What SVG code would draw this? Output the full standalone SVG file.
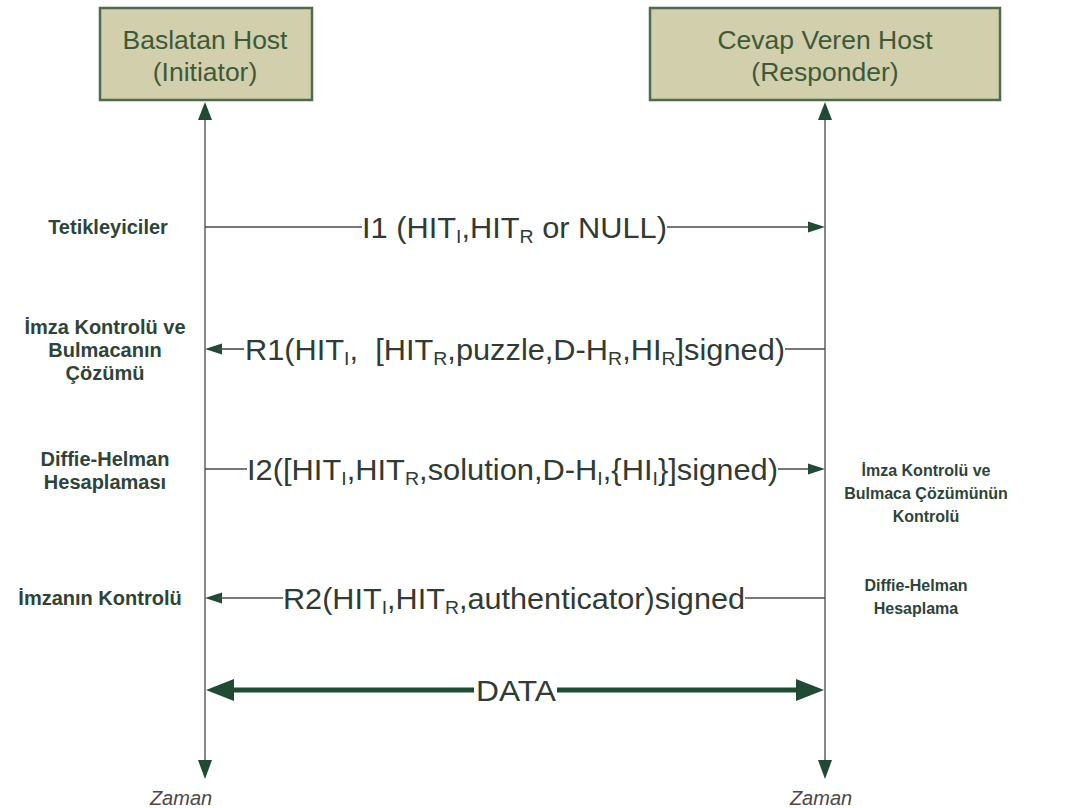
<svg xmlns="http://www.w3.org/2000/svg" width="1072" height="808" viewBox="0 0 1072 808">
  <style>
    .host rect { fill: #d2cfad; stroke: #4f6a4d; stroke-width: 2.5; }
    .host text { font-family: "Liberation Sans", Arial, sans-serif; font-size: 26.5px; fill: #3d5a38; text-anchor: middle; }
    .life { stroke: #6a6a6a; stroke-width: 1.6; fill: none; }
    .msg { stroke: #4a4a4a; stroke-width: 1.6; fill: none; }
    .head { fill: #1f4a33; }
    .mtext { font-family: "Liberation Sans", Arial, sans-serif; font-size: 30px; fill: #2f3b33; }
    .sub { font-size: 19px; }
    .side { font-family: "Liberation Sans", Arial, sans-serif; font-size: 20px; font-weight: bold; fill: #2e4438; text-anchor: middle; }
    .sideR { font-family: "Liberation Sans", Arial, sans-serif; font-size: 16px; font-weight: bold; fill: #2e4438; text-anchor: middle; }
    .time { font-family: "Liberation Sans", Arial, sans-serif; font-size: 20px; font-style: italic; fill: #4a4a4a; text-anchor: middle; }
    .data { stroke: #1f4a33; stroke-width: 5; fill: none; }
  </style>

  <!-- Hosts -->
  <g id="initiator" class="host">
    <rect x="100" y="8" width="212" height="92"/>
    <text x="205" y="49">Baslatan Host</text>
    <text x="205" y="81">(Initiator)</text>
  </g>
  <g id="responder" class="host">
    <rect x="650" y="8" width="350" height="92"/>
    <text x="825" y="49">Cevap Veren Host</text>
    <text x="825" y="81">(Responder)</text>
  </g>

  <!-- Lifelines -->
  <g id="lifelines">
    <line class="life" x1="205" y1="118" x2="205" y2="762"/>
    <polygon class="head" points="205,102 198,120 212,120"/>
    <polygon class="head" points="205,779 198,760 212,760"/>
    <line class="life" x1="825" y1="118" x2="825" y2="762"/>
    <polygon class="head" points="825,102 818,120 832,120"/>
    <polygon class="head" points="825,779 818,760 832,760"/>
  </g>

  <!-- Messages -->
  <g id="connectors">
    <!-- I1 -->
    <line class="msg" x1="205" y1="227" x2="362" y2="227"/>
    <line class="msg" x1="667" y1="227" x2="812" y2="227"/>
    <polygon class="head" points="825,227 808,221.5 808,232.5"/>
    <!-- R1 -->
    <polygon class="head" points="205,349 222,343.5 222,354.5"/>
    <line class="msg" x1="218" y1="349" x2="244" y2="349"/>
    <line class="msg" x1="785" y1="349" x2="825" y2="349"/>
    <!-- I2 -->
    <line class="msg" x1="205" y1="469" x2="247" y2="469"/>
    <line class="msg" x1="778" y1="469" x2="812" y2="469"/>
    <polygon class="head" points="825,469 808,463.5 808,474.5"/>
    <!-- R2 -->
    <polygon class="head" points="205,598 222,592.5 222,603.5"/>
    <line class="msg" x1="218" y1="598" x2="283" y2="598"/>
    <line class="msg" x1="745" y1="598" x2="825" y2="598"/>
    <!-- DATA -->
    <line class="data" x1="228" y1="690" x2="474" y2="690"/>
    <line class="data" x1="557" y1="690" x2="802" y2="690"/>
    <polygon class="head" points="206,690 234,679 234,701"/>
    <polygon class="head" points="824,690 796,679 796,701"/>
  </g>

  <!-- Message labels -->
  <g id="labels">
    <text class="mtext" x="362" y="238" textLength="305" lengthAdjust="spacingAndGlyphs">I1 (HIT<tspan class="sub" dy="5">I</tspan><tspan dy="-5">,HIT</tspan><tspan class="sub" dy="5">R</tspan><tspan dy="-5"> or NULL)</tspan></text>
    <text class="mtext" x="245" y="360" xml:space="preserve" textLength="540" lengthAdjust="spacingAndGlyphs">R1(HIT<tspan class="sub" dy="5">I</tspan><tspan dy="-5">,  [HIT</tspan><tspan class="sub" dy="5">R</tspan><tspan dy="-5">,puzzle,D-H</tspan><tspan class="sub" dy="5">R</tspan><tspan dy="-5">,HI</tspan><tspan class="sub" dy="5">R</tspan><tspan dy="-5">]signed)</tspan></text>
    <text class="mtext" x="247" y="480" textLength="531" lengthAdjust="spacingAndGlyphs">I2([HIT<tspan class="sub" dy="5">I</tspan><tspan dy="-5">,HIT</tspan><tspan class="sub" dy="5">R</tspan><tspan dy="-5">,solution,D-H</tspan><tspan class="sub" dy="5">I</tspan><tspan dy="-5">,{HI</tspan><tspan class="sub" dy="5">I</tspan><tspan dy="-5">}]signed)</tspan></text>
    <text class="mtext" x="283" y="609" textLength="462" lengthAdjust="spacingAndGlyphs">R2(HIT<tspan class="sub" dy="5">I</tspan><tspan dy="-5">,HIT</tspan><tspan class="sub" dy="5">R</tspan><tspan dy="-5">,authenticator)signed</tspan></text>
    <text class="mtext" x="516" y="701" text-anchor="middle" textLength="80" lengthAdjust="spacingAndGlyphs">DATA</text>
  </g>

  <!-- Side notes -->
  <g id="notes">
    <text class="side" x="108" y="234">Tetikleyiciler</text>
    <text class="side" x="105" y="334">İmza Kontrolü ve</text>
    <text class="side" x="105" y="357">Bulmacanın</text>
    <text class="side" x="105" y="380">Çözümü</text>
    <text class="side" x="105" y="466">Diffie-Helman</text>
    <text class="side" x="105" y="489">Hesaplaması</text>
    <text class="side" x="100" y="605">İmzanın Kontrolü</text>
    <text class="sideR" x="926" y="476">İmza Kontrolü ve</text>
    <text class="sideR" x="926" y="499">Bulmaca Çözümünün</text>
    <text class="sideR" x="926" y="522">Kontrolü</text>
    <text class="sideR" x="916" y="591">Diffie-Helman</text>
    <text class="sideR" x="916" y="614">Hesaplama</text>
  </g>

  <!-- Time axis captions -->
  <g id="time">
    <text class="time" x="181" y="805">Zaman</text>
    <text class="time" x="821" y="805">Zaman</text>
  </g>
</svg>
